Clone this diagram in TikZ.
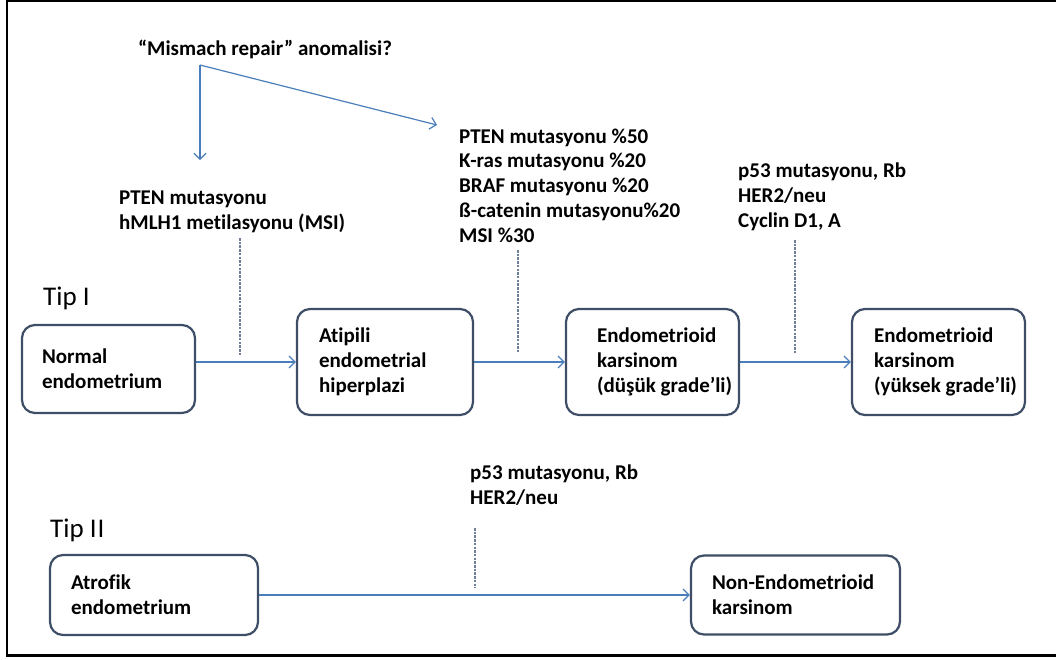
\documentclass[tikz,border=0pt]{standalone}
\usepackage{fontspec}
\setmainfont{Carlito}[Ligatures=NoCommon]
\usetikzlibrary{arrows.meta}
\definecolor{boxcol}{HTML}{3E4E66}
\definecolor{arrcol}{HTML}{4A7EBB}
\definecolor{dashcol}{HTML}{6F7F98}
\begin{document}
\begin{tikzpicture}[x=1pt,y=-1pt,
  box/.style={draw=boxcol,line width=2.2pt,rounded corners=13pt,fill=white,inner sep=0pt},
  boxtext/.style={font=\fontsize{21}{25}\selectfont\bfseries,align=left,inner sep=0pt,anchor=west},
  lbl/.style={font=\fontsize{21}{24.7}\selectfont\bfseries,align=left,inner sep=0pt,anchor=base west},
  tiplbl/.style={font=\fontsize{27}{30}\selectfont,inner sep=0pt,anchor=base west},
  arr/.style={draw=arrcol,line width=1.2pt,-{Straight Barb[length=6pt,width=12pt,line width=1.2pt]}},
  dashln/.style={draw=dashcol,line width=1.1pt,dash pattern=on 2.5pt off 1.2pt}]
\useasboundingbox (0,0) rectangle (1056,659);
% frame
\draw[line width=2.5pt,black] (1056,1.2) -- (7,1.2) -- (7,655.5) -- (1056,655.5);

% top label and fork
\node[font=\fontsize{21}{24}\selectfont\bfseries,inner sep=0pt,anchor=base] (mm) at (265,55) {“Mismach repair” anomalisi?};
\coordinate (fork) at (200,65);
\coordinate (tipA) at (200,160);
\coordinate (tipB) at (437,125);
\draw[arr] (fork) -- (tipA);
\draw[arr] (fork) -- (tipB);

% mutation labels (base anchor = last line baseline)
\node[lbl] (t1) at (119,229) {PTEN mutasyonu\\hMLH1 metilasyonu (MSI)};
\node[lbl] (t2) at (459,242) {PTEN mutasyonu \%50\\K-ras mutasyonu \%20\\BRAF mutasyonu \%20\\ß-catenin mutasyonu\%20\\MSI \%30};
\node[lbl] (t3) at (738,227) {p53 mutasyonu, Rb\\HER2/neu\\Cyclin D1, A};
\node[lbl] (t4) at (470,504) {p53 mutasyonu, Rb\\HER2/neu};

% type labels
\node[tiplbl] (tip1) at (43,305) {Tip I};
\node[tiplbl] (tip2) at (50,537) {Tip I\kern1pt I};

% Tip I boxes
\node[box,minimum width=173pt,minimum height=88pt] (n) at (108.5,369) {};
\node[boxtext] (nt) at ([xshift=21pt]n.west) {Normal\\endometrium};
\node[box,minimum width=176pt,minimum height=106pt] (a) at (385,362) {};
\node[boxtext] (at) at ([xshift=23pt]a.west) {Atipili\\endometrial\\hiperplazi};
\node[box,minimum width=173pt,minimum height=106pt] (e1) at (652.5,362) {};
\node[boxtext] (e1t) at ([xshift=32pt]e1.west) {Endometrioid\\karsinom\\(düşük grade’li)};
\node[box,minimum width=173pt,minimum height=106pt] (e2) at (938.5,362) {};
\node[boxtext] (e2t) at ([xshift=23pt]e2.west) {Endometrioid\\karsinom\\(yüksek grade’li)};

% Tip II boxes
\node[box,minimum width=208pt,minimum height=80pt] (af) at (154,595) {};
\node[boxtext] (aft) at ([xshift=22pt]af.west) {Atrofik\\endometrium};
\node[box,minimum width=209pt,minimum height=79pt] (ne) at (795.5,595) {};
\node[boxtext] (net) at ([xshift=22pt]ne.west) {Non-Endometrioid\\karsinom};

% arrows between boxes
\draw[arr] (n.east |- a.west) -- (a.west);
\draw[arr] (a.east) -- (e1.west);
\draw[arr] (e1.east) -- (e2.west);
\draw[arr] (af.east) -- (ne.west);

% dashed markers
\coordinate (d1a) at (240,238); \coordinate (d1b) at (240,355);
\coordinate (d2a) at (518,250); \coordinate (d2b) at (518,352);
\coordinate (d3a) at (795,240); \coordinate (d3b) at (795,353);
\coordinate (d4a) at (475,528); \coordinate (d4b) at (475,588);
\draw[dashln] (d1a) -- (d1b);
\draw[dashln] (d2a) -- (d2b);
\draw[dashln] (d3a) -- (d3b);
\draw[dashln] (d4a) -- (d4b);
\end{tikzpicture}
\end{document}
